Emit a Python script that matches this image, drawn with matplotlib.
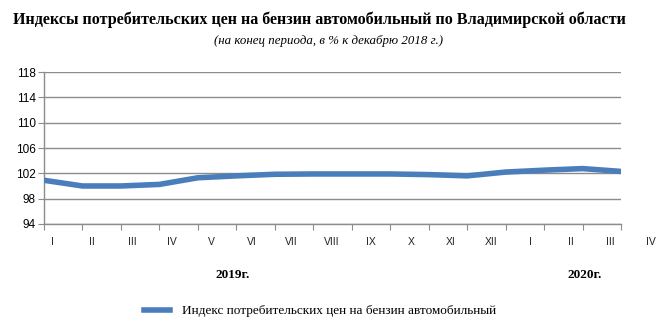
import numpy as np
import matplotlib
matplotlib.use("Agg")
import matplotlib.pyplot as plt
from matplotlib.lines import Line2D

# data
months = ["I", "II", "III", "IV", "V", "VI", "VII", "VIII", "IX", "X", "XI", "XII",
          "I", "II", "III", "IV"]
values = [100.9, 100.0, 100.0, 100.25, 101.3, 101.6, 101.85, 101.9,
          101.9, 101.9, 101.8, 101.6, 102.2, 102.5, 102.75, 102.3]
years = ["2019г.", "2020г."]
series_name = "Индекс потребительских цен на бензин автомобильный"
yticks = [94, 98, 102, 106, 110, 114, 118]

serif = "Liberation Serif"
sans = "Liberation Sans"
blue = "#4A7EBB"
grey = "#8C8C8C"

fig = plt.figure(figsize=(6.6, 3.25), dpi=100)
ax = fig.add_axes([0.0667, 0.311, 0.8743, 0.467])

x = np.arange(len(values))
ax.plot(x, values, color=blue, lw=4.0, solid_capstyle="butt", solid_joinstyle="round", zorder=3)

ax.set_xlim(0, len(values) - 1)
ax.set_ylim(94, 118)
ax.set_yticks(yticks)
ax.set_yticklabels([str(v) for v in yticks], fontname=sans, fontsize=8.5)
ax.grid(axis="y", color=grey, lw=1.0)
ax.set_axisbelow(True)

ax.set_xticks(x)
ax.set_xticklabels([])
ax.tick_params(axis="x", length=4, color=grey, direction="out")
ax.tick_params(axis="y", length=4, color=grey, direction="out", pad=2)

for s in ["top", "right"]:
    ax.spines[s].set_visible(False)
for s in ["left", "bottom"]:
    ax.spines[s].set_color(grey)
    ax.spines[s].set_linewidth(1.0)

# month labels (slightly shifted from the tick marks, as in the original)
for i, m in enumerate(months):
    ax.text(0.21 + i * 1.037, -0.12, m, transform=ax.get_xaxis_transform(),
            ha="center", va="center", fontname=sans, fontsize=7.5, color="#222222")

fig.text(233 / 660, 1 - 275 / 325, years[0], ha="center", va="center",
         fontname=serif, fontweight="bold", fontsize=9.5)
fig.text(585 / 660, 1 - 275 / 325, years[1], ha="center", va="center",
         fontname=serif, fontweight="bold", fontsize=9.5)

fig.text(319 / 660, 1 - 20 / 325,
         "Индексы потребительских цен на бензин автомобильный по Владимирской области",
         ha="center", va="center", fontname=serif, fontweight="bold", fontsize=11.6)
fig.text(329 / 660, 1 - 41 / 325, "(на конец периода, в % к декабрю 2018 г.)",
         ha="center", va="center", fontname=serif, style="italic", fontsize=9.3)

handle = Line2D([0], [0], color=blue, lw=4.0)
fig.legend([handle], [series_name], loc="center", bbox_to_anchor=(320 / 660, 1 - 311 / 325),
           frameon=False, handlelength=2.0, handletextpad=0.9,
           prop={"family": serif, "size": 9.5})

fig.savefig("out.png", dpi=100)
